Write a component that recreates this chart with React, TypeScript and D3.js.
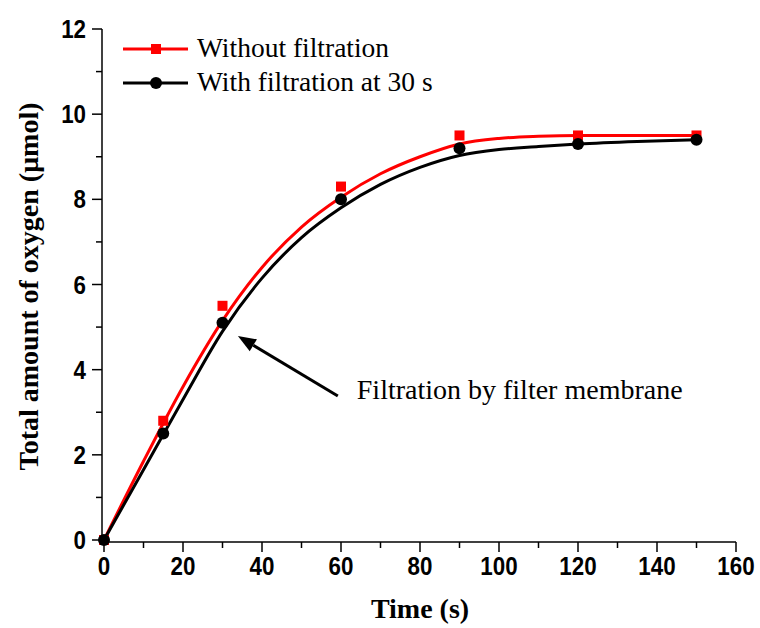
import React from "react";
import * as d3 from "d3";

const timeS = [0, 15, 30, 60, 90, 120, 150];
const withoutFiltration = [0, 2.8, 5.5, 8.3, 9.5, 9.5, 9.5];
const withFiltration = [0, 2.5, 5.1, 8.0, 9.2, 9.3, 9.4];

const fitT = [0, 10, 20, 30, 40, 50, 60, 70, 80, 90, 100, 110, 120, 135, 150];
const fitWithout = [0, 1.85, 3.6, 5.15, 6.4, 7.35, 8.05, 8.6, 9.0, 9.3, 9.43, 9.48, 9.5, 9.5, 9.5];
const fitWith = [0, 1.65, 3.3, 4.9, 6.15, 7.1, 7.8, 8.35, 8.75, 9.03, 9.17, 9.24, 9.3, 9.36, 9.4];

const xMajor = [0, 20, 40, 60, 80, 100, 120, 140, 160];
const xMinor = [10, 30, 50, 70, 90, 110, 130, 150];
const yMajor = [0, 2, 4, 6, 8, 10, 12];
const yMinor = [1, 3, 5, 7, 9, 11];

const legendLabels = ["Without filtration", "With filtration at 30 s"];
const annotationText = "Filtration by filter membrane";
const arrowTip = [33.9, 4.79];
const arrowTail = [59.2, 3.38];
const annotationPos = [64.0, 3.3];

export default function App() {
  const W = 760, H = 628;
  const x = d3.scaleLinear().domain([0, 160]).range([104, 736]);
  const y = d3.scaleLinear().domain([0, 12]).range([540, 29]);
  const axX = 102, axY = 542;
  const line = d3
    .line<number>()
    .x((_, i) => x(fitT[i]))
    .y((d) => y(d))
    .curve(d3.curveMonotoneX);
  const red = "#ff0000";
  const tickFont = "'Liberation Sans', Arial, sans-serif";
  const serif = "'Liberation Serif', 'Times New Roman', serif";
  const sx0 = 0.86;

  const tx = x(arrowTip[0]), ty = y(arrowTip[1]);
  const sx = x(arrowTail[0]), sy = y(arrowTail[1]);
  const ang = Math.atan2(ty - sy, tx - sx);
  const headL = 18, headW = 7;
  const bx = tx - headL * Math.cos(ang), by = ty - headL * Math.sin(ang);
  const px = -Math.sin(ang) * headW, py = Math.cos(ang) * headW;

  return (
    <svg width={W} height={H} style={{ position: "absolute", left: 0, top: 0, background: "#fff" }}>
      <rect width={W} height={H} fill="#fff" />
      <line x1={axX} x2={axX} y1={y(12)} y2={axY} stroke="#000" strokeWidth={1.5} />
      <line x1={axX} x2={x(160)} y1={axY} y2={axY} stroke="#000" strokeWidth={1.5} />
      {yMajor.map((v) => (
        <g key={"ym" + v}>
          <line x1={axX - 10} x2={axX} y1={y(v)} y2={y(v)} stroke="#000" strokeWidth={1.5} />
          <text
            transform={`translate(${axX - 16}, ${y(v) + 9}) scale(${sx0},1)`}
            textAnchor="end"
            fontFamily={tickFont}
            fontWeight="bold"
            fontSize={26}
          >
            {v}
          </text>
        </g>
      ))}
      {yMinor.map((v) => (
        <line key={"yn" + v} x1={axX - 6} x2={axX} y1={y(v)} y2={y(v)} stroke="#000" strokeWidth={1.5} />
      ))}
      {xMajor.map((v) => (
        <g key={"xm" + v}>
          <line x1={x(v)} x2={x(v)} y1={axY} y2={axY + 10} stroke="#000" strokeWidth={1.5} />
          <text
            transform={`translate(${x(v)}, ${axY + 33}) scale(${sx0},1)`}
            textAnchor="middle"
            fontFamily={tickFont}
            fontWeight="bold"
            fontSize={26}
          >
            {v}
          </text>
        </g>
      ))}
      {xMinor.map((v) => (
        <line key={"xn" + v} x1={x(v)} x2={x(v)} y1={axY} y2={axY + 6} stroke="#000" strokeWidth={1.5} />
      ))}
      <text x={420} y={618} textAnchor="middle" fontFamily={serif} fontWeight="bold" fontSize={28}>
        Time (s)
      </text>
      <text
        transform={`translate(38, ${(y(12) + y(0)) / 2 + 2}) rotate(-90)`}
        textAnchor="middle"
        fontFamily={serif}
        fontWeight="bold"
        fontSize={28}
      >
        Total amount of oxygen (μmol)
      </text>
      <path d={line(fitWithout) || ""} fill="none" stroke={red} strokeWidth={3} />
      <path d={line(fitWith) || ""} fill="none" stroke="#000" strokeWidth={3} />
      {timeS.map((t, i) => (
        <rect key={"r" + t} x={x(t) - 5} y={y(withoutFiltration[i]) - 5} width={10} height={10} fill={red} />
      ))}
      {timeS.map((t, i) => (
        <circle key={"c" + t} cx={x(t)} cy={y(withFiltration[i])} r={6} fill="#000" />
      ))}
      <line x1={123} x2={188} y1={49} y2={49} stroke={red} strokeWidth={3} />
      <rect x={151} y={44} width={10} height={10} fill={red} />
      <text x={197} y={57} fontFamily={serif} fontSize={27.5}>{legendLabels[0]}</text>
      <line x1={123} x2={188} y1={83} y2={83} stroke="#000" strokeWidth={3} />
      <circle cx={156} cy={83} r={6} fill="#000" />
      <text x={197} y={91} fontFamily={serif} fontSize={27.5}>{legendLabels[1]}</text>
      <line x1={sx} y1={sy} x2={bx} y2={by} stroke="#000" strokeWidth={3} />
      <path d={`M${tx},${ty}L${bx + px},${by + py}L${bx - px},${by - py}Z`} fill="#000" />
      <text x={x(annotationPos[0])} y={y(annotationPos[1])} fontFamily={serif} fontSize={28}>
        {annotationText}
      </text>
    </svg>
  );
}
